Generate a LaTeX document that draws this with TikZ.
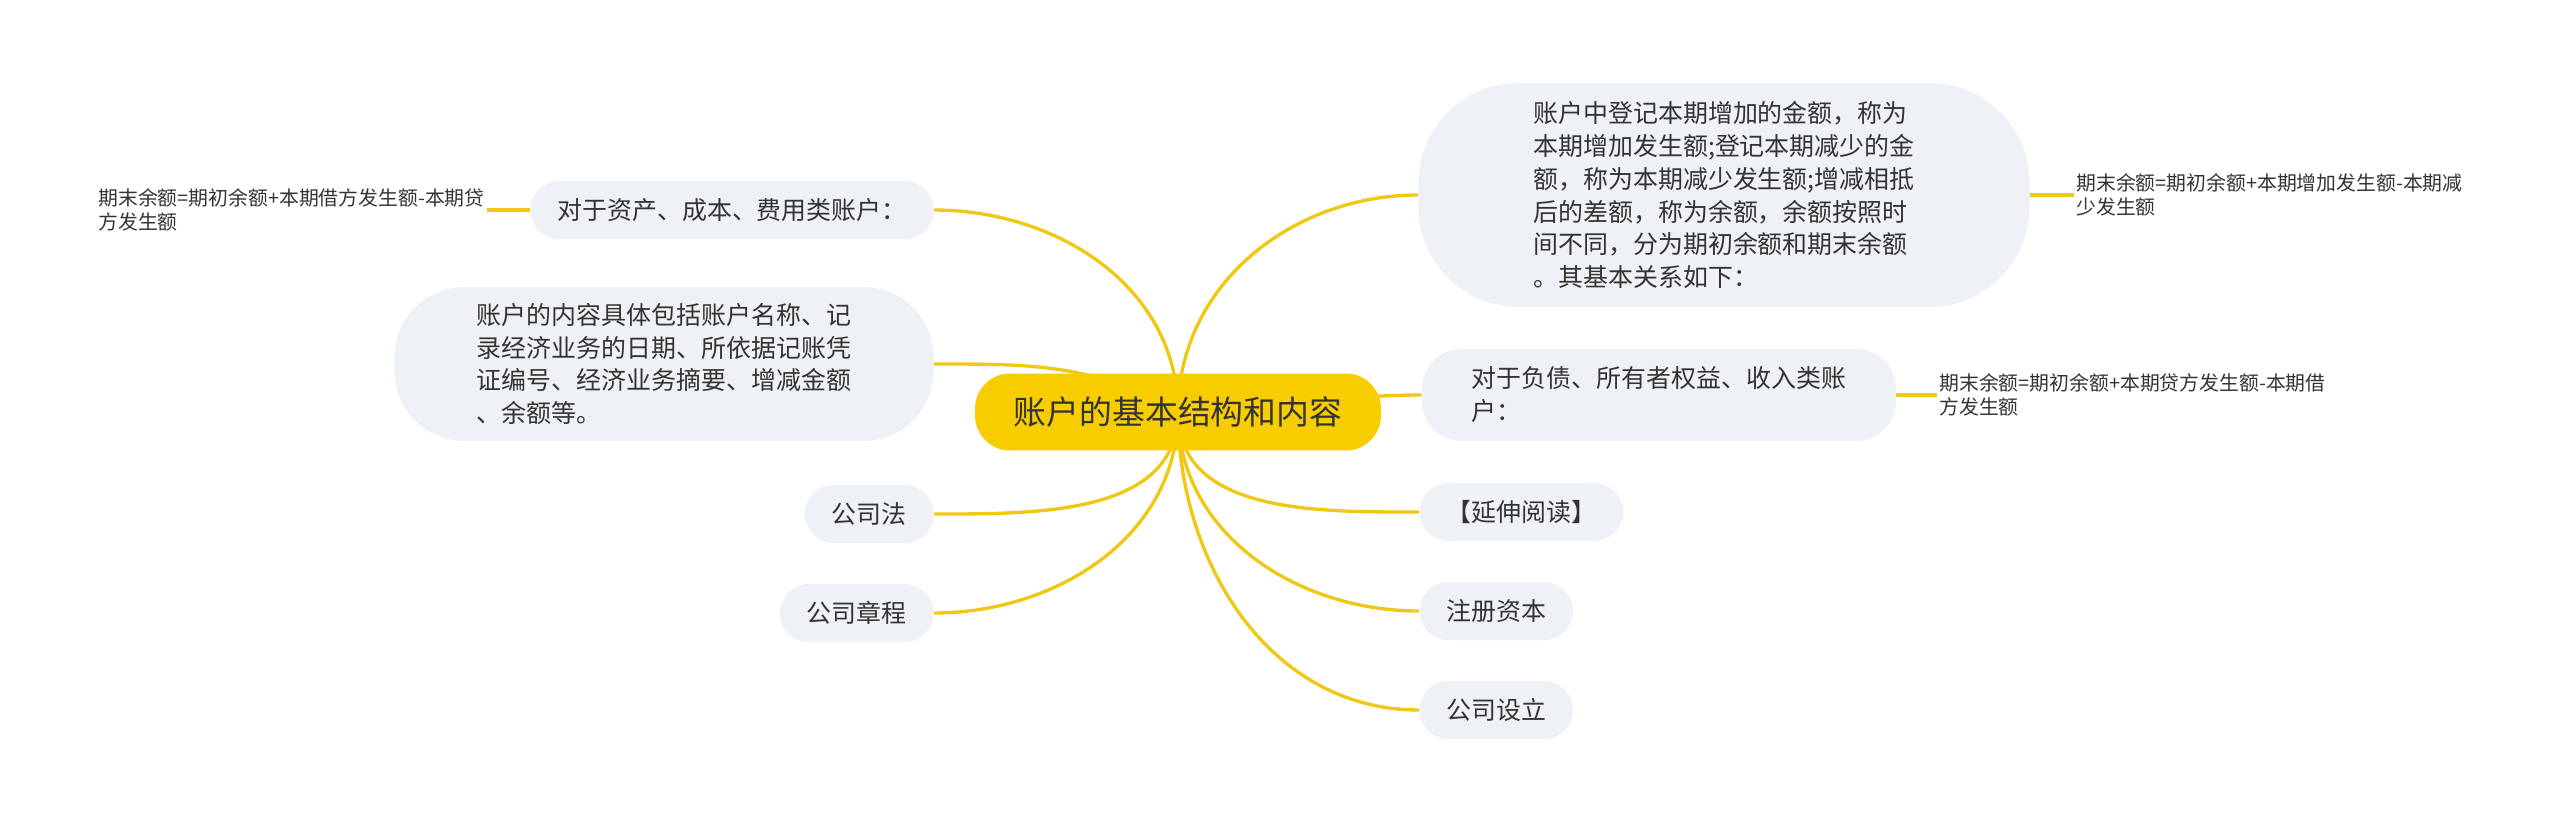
\documentclass[tikz,border=0pt]{standalone}
\usepackage{fontspec}
\setmainfont{Noto Sans CJK SC}
\usetikzlibrary{backgrounds}
\definecolor{mapgold}{RGB}{247,205,0}
\definecolor{mapline}{RGB}{240,200,20}
\definecolor{mapgray}{RGB}{238,241,245}
\definecolor{maptext}{RGB}{51,51,51}

\begin{document}
\begin{tikzpicture}[x=0.02cm, y=0.02cm,
  root/.style={rectangle,fill=mapgold,rounded corners=0.7cm, minimum width=8.12cm,minimum height=1.54cm,text=maptext, font=\fontsize{18.7}{22}\selectfont},
  topic/.style={rectangle,fill=mapgray,rounded corners=0.58cm, inner xsep=0.54cm,inner ysep=0.1cm,minimum height=1.16cm, align=left,text=maptext,font=\fontsize{14.2}{18.7}\selectfont},
  leaf/.style={inner sep=0.04cm,align=left,text=maptext, font=\fontsize{11.3}{13.8}\selectfont},
  link/.style={draw=mapline,line width=1.9pt}
]
  \useasboundingbox (0,0) rectangle (2560,-825);

  \node[root] (root) at (1178,-412) {账户的基本结构和内容};

  % right side
  \node[topic, rounded corners=2cm, inner xsep=2.3cm, minimum height=4.48cm] (yue) at (1724,-195)
    {账户中登记本期增加的金额，称为\\本期增加发生额;登记本期减少的金\\额，称为本期减少发生额;增减相抵\\后的差额，称为余额，余额按照时\\间不同，分为期初余额和期末余额\\。其基本关系如下：};
  \node[leaf, anchor=west] (yueeq) at (2074,-195) {期末余额=期初余额+本期增加发生额-本期减\\少发生额};
  \node[topic, rounded corners=0.8cm, inner xsep=1.0cm, minimum height=1.84cm] (fuzhai) at (1659,-395)
    {对于负债、所有者权益、收入类账\\户：};
  \node[leaf, anchor=west] (fuzhaieq) at (1937,-395) {期末余额=期初余额+本期贷方发生额-本期借\\方发生额};
  \node[topic, anchor=west] (yanshen) at (1419,-512) {【延伸阅读】};
  \node[topic, anchor=west] (zhuce)   at (1419,-611) {注册资本};
  \node[topic, anchor=west] (sheli)   at (1419,-710) {公司设立};

  % left side
  \node[topic, anchor=east] (zichan) at (934,-210) {对于资产、成本、费用类账户：};
  \node[leaf, anchor=east] (zichaneq) at (487,-210) {期末余额=期初余额+本期借方发生额-本期贷\\方发生额};
  \node[topic, anchor=east, rounded corners=1.4cm, inner xsep=1.65cm, minimum height=3.08cm] (neirong) at (934,-364)
    {账户的内容具体包括账户名称、记\\录经济业务的日期、所依据记账凭\\证编号、经济业务摘要、增减金额\\、余额等。};
  \node[topic, anchor=east] (gongsifa)   at (934,-514) {公司法};
  \node[topic, anchor=east] (zhangcheng) at (934,-613) {公司章程};

  \begin{scope}[on background layer]
    \draw[link] (root.center) to[out=90, in=180] (yue.west);
    \draw[link] (root.center) to[out=0, in=180] (fuzhai.west);
    \draw[link] (root.center) to[out=-90, in=180] (yanshen.west);
    \draw[link] (root.center) to[out=-90, in=180] (zhuce.west);
    \draw[link] (root.center) to[out=-90, in=180] (sheli.west);
    \draw[link] (root.center) to[out=90, in=0] (zichan.east);
    \draw[link] (root.center) to[out=150, in=0] (neirong.east);
    \draw[link] (root.center) to[out=-90, in=0] (gongsifa.east);
    \draw[link] (root.center) to[out=-90, in=0] (zhangcheng.east);
  \end{scope}
  \draw[link] (yue.east) -- (yueeq.west);
  \draw[link] (fuzhai.east) -- (fuzhaieq.west);
  \draw[link] (zichan.west) -- (zichaneq.east);
\end{tikzpicture}
\end{document}
